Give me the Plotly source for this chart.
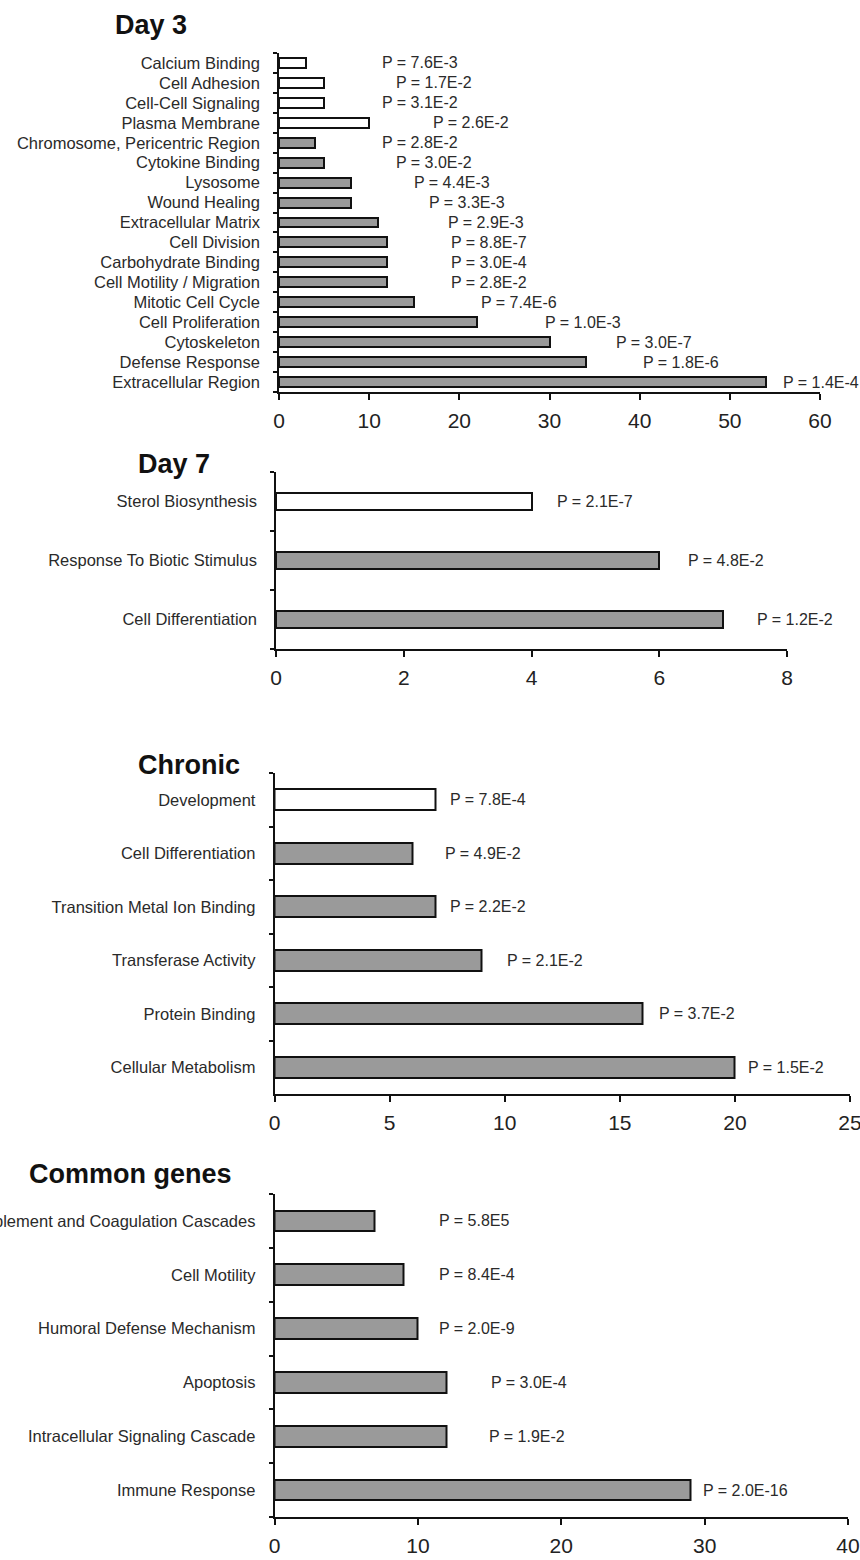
import plotly.graph_objects as go

# ---------------- data ----------------
day3_terms = ["Calcium Binding", "Cell Adhesion", "Cell-Cell Signaling", "Plasma Membrane",
              "Chromosome, Pericentric Region", "Cytokine Binding", "Lysosome", "Wound Healing",
              "Extracellular Matrix", "Cell Division", "Carbohydrate Binding",
              "Cell Motility / Migration", "Mitotic Cell Cycle", "Cell Proliferation",
              "Cytoskeleton", "Defense Response", "Extracellular Region"]
day3_counts = [3, 5, 5, 10, 4, 5, 8, 8, 11, 12, 12, 12, 15, 22, 30, 34, 54]
day3_pvalues = ["P = 7.6E-3", "P = 1.7E-2", "P = 3.1E-2", "P = 2.6E-2", "P = 2.8E-2",
                "P = 3.0E-2", "P = 4.4E-3", "P = 3.3E-3", "P = 2.9E-3", "P = 8.8E-7",
                "P = 3.0E-4", "P = 2.8E-2", "P = 7.4E-6", "P = 1.0E-3", "P = 3.0E-7",
                "P = 1.8E-6", "P = 1.4E-4"]
day3_group = ["down", "down", "down", "down", "up", "up", "up", "up", "up", "up", "up",
              "up", "up", "up", "up", "up", "up"]

day7_terms = ["Sterol Biosynthesis", "Response To Biotic Stimulus", "Cell Differentiation"]
day7_counts = [4, 6, 7]
day7_pvalues = ["P = 2.1E-7", "P = 4.8E-2", "P = 1.2E-2"]
day7_group = ["down", "up", "up"]

chronic_terms = ["Development", "Cell Differentiation", "Transition Metal Ion Binding",
                 "Transferase Activity", "Protein Binding", "Cellular Metabolism"]
chronic_counts = [7, 6, 7, 9, 16, 20]
chronic_pvalues = ["P = 7.8E-4", "P = 4.9E-2", "P = 2.2E-2", "P = 2.1E-2", "P = 3.7E-2",
                   "P = 1.5E-2"]
chronic_group = ["down", "up", "up", "up", "up", "up"]

common_terms = ["Complement and Coagulation Cascades", "Cell Motility",
                "Humoral Defense Mechanism", "Apoptosis", "Intracellular Signaling Cascade",
                "Immune Response"]
common_counts = [7, 9, 10, 12, 12, 29]
common_pvalues = ["P = 5.8E5", "P = 8.4E-4", "P = 2.0E-9", "P = 3.0E-4", "P = 1.9E-2",
                  "P = 2.0E-16"]
common_group = ["up", "up", "up", "up", "up", "up"]

panel_titles = ["Day 3", "Day 7", "Chronic", "Common genes"]

# ---------------- layout / style ----------------
W, H = 860, 1560
FONT = "Liberation Sans, Arial, sans-serif"
GROUP_COLOR = {"down": "#ffffff", "up": "#9a9a9a"}

# p-value label x positions (data units) as placed in the original figure
label_x = [
    [11.2, 12.7, 11.2, 16.9, 11.2, 12.7, 14.8, 16.4, 18.5, 18.8, 18.8, 18.8, 22.2, 29.3, 37.2, 40.2, 55.7],
    [4.37, 6.42, 7.5],
    [7.55, 7.3, 7.55, 10.0, 16.6, 20.5],
    [11.3, 11.3, 11.3, 14.96, 14.8, 29.75],
]

# pixel geometry of each panel: x0, x1, y0 (top), y1 (bottom), axis max, dtick, bar width
geom = [
    dict(x0=279, x1=820, y0=53, y1=392, xmax=60, dtick=10, bw=0.5),
    dict(x0=276, x1=787, y0=472, y1=649, xmax=8, dtick=2, bw=0.29),
    dict(x0=274.5, x1=850, y0=773, y1=1094, xmax=25, dtick=5, bw=0.39),
    dict(x0=274.5, x1=848, y0=1194, y1=1517, xmax=40, dtick=10, bw=0.385),
]
title_pos = [(113, 25), (136, 464), (136, 765), (27, 1174)]

panels = [
    (day3_terms, day3_counts, day3_pvalues, day3_group),
    (day7_terms, day7_counts, day7_pvalues, day7_group),
    (chronic_terms, chronic_counts, chronic_pvalues, chronic_group),
    (common_terms, common_counts, common_pvalues, common_group),
]

fig = go.Figure()
annotations = []
layout_axes = {}

for i, ((terms, counts, pvals, groups), g) in enumerate(zip(panels, geom)):
    n = i + 1
    xa = "x" if n == 1 else f"x{n}"
    ya = "y" if n == 1 else f"y{n}"
    fig.add_trace(go.Bar(
        x=counts, y=terms, orientation="h", xaxis=xa, yaxis=ya,
        width=g["bw"],
        marker=dict(color=[GROUP_COLOR[k] for k in groups],
                    line=dict(color="#111111", width=2)),
        showlegend=False, hoverinfo="x+y", cliponaxis=False,
    ))
    layout_axes["xaxis" if n == 1 else f"xaxis{n}"] = dict(
        domain=[g["x0"] / W, g["x1"] / W], range=[0, g["xmax"]], anchor=ya,
        tickmode="linear", tick0=0, dtick=g["dtick"],
        showline=True, linecolor="#111111", linewidth=1.5,
        ticks="outside", ticklen=6, tickwidth=1.5, tickcolor="#111111",
        showgrid=False, zeroline=False, automargin=False, ticklabeloverflow="allow",
        tickfont=dict(family=FONT, size=21, color="#222222"), ticklabelstandoff=3,
    )
    layout_axes["yaxis" if n == 1 else f"yaxis{n}"] = dict(
        domain=[1 - g["y1"] / H, 1 - g["y0"] / H], type="category",
        categoryorder="array", categoryarray=terms, range=[len(terms) - 0.5, -0.5],
        tickmode="array", tickvals=terms, ticktext=terms,
        anchor=xa, showline=True, linecolor="#111111", linewidth=1.5,
        ticks="outside", ticklen=4, tickwidth=1.5, tickcolor="#111111",
        tickson="boundaries", showgrid=False, zeroline=False, automargin=False,
        ticklabeloverflow="allow",
        tickfont=dict(family=FONT, size=16.5, color="#2a2a2a"), ticklabelstandoff=14,
    )
    for t, p, lx in zip(terms, pvals, label_x[i]):
        annotations.append(dict(
            x=lx, y=t, xref=xa, yref=ya, text=p, showarrow=False, xanchor="left",
            yanchor="middle", font=dict(family=FONT, size=16, color="#2a2a2a"),
        ))
    tx, ty = title_pos[i]
    annotations.append(dict(
        x=tx / W, y=1 - ty / H, xref="paper", yref="paper", text=f"<b>{panel_titles[i]}</b>",
        showarrow=False, xanchor="left", yanchor="middle",
        font=dict(family=FONT, size=27, color="#111111"),
    ))

fig.update_layout(
    width=W, height=H, margin=dict(l=0, r=0, t=0, b=0),
    paper_bgcolor="white", plot_bgcolor="white",
    annotations=annotations, bargap=0, **layout_axes,
)

fig.write_html(
    "out.html",
    config={"displayModeBar": False},
    post_script="document.body.style.margin='0';document.body.style.padding='0';"
                "document.body.style.overflow='hidden';",
)
